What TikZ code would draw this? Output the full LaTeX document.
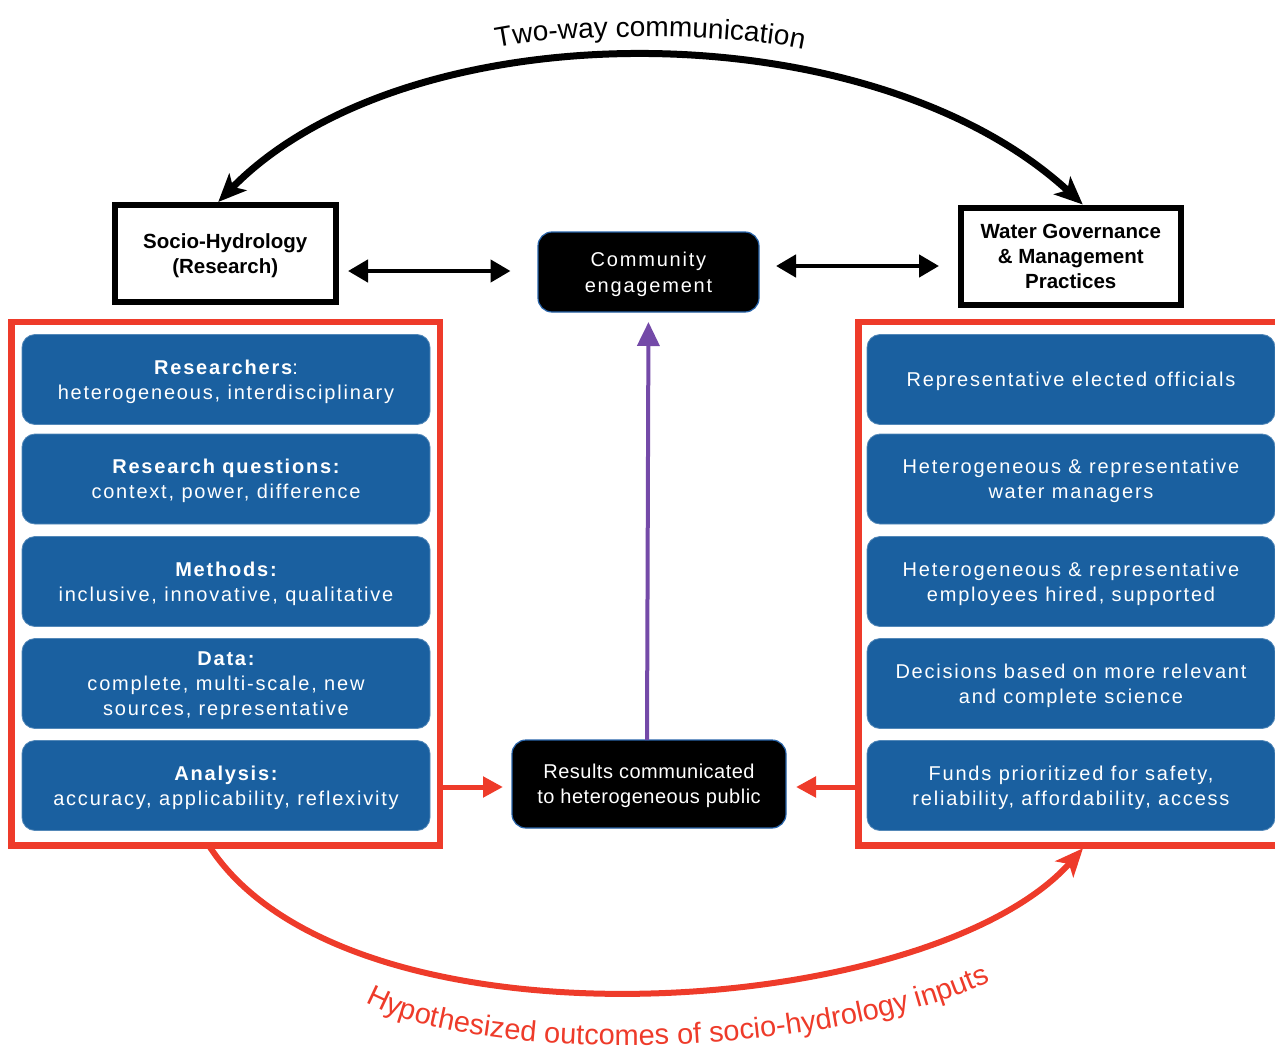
\documentclass[tikz,border=0pt]{standalone}
\usepackage{fontspec}
\setmainfont{Liberation Sans}
\newfontfamily\spacedfont[LetterSpace=9]{Liberation Sans}
\newfontfamily\midspfont[LetterSpace=2.5]{Liberation Sans}
\usetikzlibrary{arrows.meta,decorations.text,calc}
\definecolor{boxblue}{RGB}{26,96,160}
\definecolor{framered}{RGB}{238,59,42}
\definecolor{arrowpurple}{RGB}{116,74,168}
\definecolor{edgeblue}{RGB}{40,100,170}
\newcommand\myarcfont{\fontsize{28}{30}\selectfont}
\newcommand\mybotarcfont{\fontsize{29}{31}\selectfont}
\begin{document}
\begin{tikzpicture}[x=1pt,y=-1pt,
  bluebox/.style={fill=boxblue, draw=boxblue!75!white, line width=0.8pt, rounded corners=13pt,
    minimum width=408pt, minimum height=90pt, inner sep=0pt, outer sep=0pt, text=white,
    align=center, text depth=-1.8pt, font=\spacedfont\fontsize{20}{25}\selectfont},
  headbox/.style={draw=black, line width=6pt, fill=white, inner sep=0pt, outer sep=0pt,
    minimum width=220.5pt, minimum height=97pt, align=center,
    font=\bfseries\fontsize{20.5}{25}\selectfont},
  blackbox/.style={fill=black, draw=edgeblue, line width=1.2pt, rounded corners=14pt,
    inner sep=0pt, outer sep=0pt, text=white, align=center},
  redframe/.style={draw=framered, line width=6.5pt, inner sep=0pt, outer sep=0pt},
  dblarrow/.style={line width=4.5pt, {Triangle[length=20pt,width=22pt]}-{Triangle[length=20pt,width=22pt]}},
  redarrow/.style={draw=framered, line width=5pt, -{Triangle[length=20pt,width=20pt]}},
  purplearrow/.style={draw=arrowpurple, line width=4pt, -{Triangle[length=24pt,width=22pt]}},
  toparc/.style={line width=7pt, {Stealth[length=28pt,width=24pt,inset=7pt]}-{Stealth[length=28pt,width=24pt,inset=7pt]}},
  botarc/.style={draw=framered, line width=6pt, -{Stealth[length=28pt,width=24pt,inset=7pt]}}
]
\useasboundingbox (0,0) rectangle (1275,1049);
\begin{scope}
\clip (0,0) rectangle (1275,1049);

% header boxes
\node[headbox, text depth=-1.8pt] (socio) at (225.25,253.5) {Socio-Hydrology\\(Research)};
\node[headbox, text depth=-2pt] (water) at (1070.75,256) {Water Governance\\\& Management\\Practices};

% black boxes
\node[blackbox, minimum width=221pt, minimum height=80pt, text depth=0.2pt,
  font=\spacedfont\fontsize{20}{26}\selectfont] (community) at (648.5,272) {Community\\engagement};
\node[blackbox, minimum width=274pt, minimum height=88pt, text depth=-1.8pt,
  font=\midspfont\fontsize{20}{25}\selectfont] (results) at (649,784) {Results communicated\\to heterogeneous public};

% red frames
\node[redframe, minimum width=428.5pt, minimum height=523.5pt] (L) at (225.75,583.5) {};
\node[redframe, minimum width=430pt, minimum height=523.5pt] (R) at (1073.5,583.5) {};

% left blue boxes
\node[bluebox] (l1) at (226,379.5) {{\bfseries Researchers}:\\heterogeneous, interdisciplinary};
\node[bluebox] (l2) at (226,479) {{\bfseries Research questions:}\\context, power, difference};
\node[bluebox] (l3) at (226,581.5) {{\bfseries Methods:}\\inclusive, innovative, qualitative};
\node[bluebox] (l4) at (226,683.5) {{\bfseries Data:}\\complete, multi-scale, new\\sources, representative};
\node[bluebox] (l5) at (226,785.5) {{\bfseries Analysis:}\\accuracy, applicability, reflexivity};

% right blue boxes
\node[bluebox] (r1) at (1071,379.5) {Representative elected officials};
\node[bluebox] (r2) at (1071,479) {Heterogeneous \& representative\\water managers};
\node[bluebox] (r3) at (1071,581.5) {Heterogeneous \& representative\\employees hired, supported};
\node[bluebox] (r4) at (1071,683.5) {Decisions based on more relevant\\and complete science};
\node[bluebox] (r5) at (1071,785.5) {Funds prioritized for safety,\\reliability, affordability, access};

% double arrows
\draw[dblarrow, shorten <=12.5pt, shorten >=27.5pt] ([yshift=1pt]socio.east |- community.west) -- ([yshift=1pt]community.west);
\draw[dblarrow, shorten <=17pt, shorten >=21.5pt] ([yshift=6pt]community.east) -- ([yshift=6pt]community.east -| water.west);

% purple arrow
\draw[purplearrow, shorten >=10pt] ([xshift=-2pt]results.north) -- (community.south);

% red arrows into results
\coordinate (rin) at ([yshift=-3pt]results.west);
\coordinate (rout) at ([yshift=-3pt]results.east);
\draw[redarrow, shorten >=9pt] (L.east |- rin) -- (rin);
\draw[redarrow, shorten >=10pt] (R.west |- rout) -- (rout);

% top two-way arc
\draw[toparc] ($(socio.north)+(-7,-3)$) .. controls (408,8) and (870,8) .. ($(water.north)+(12,-3)$);
\path[decorate, decoration={text along path, text align=center,
  text={|\myarcfont|Two-way communication}}]
  (486,50) .. controls (555,32) and (745,32) .. (814,52);

% bottom red arc
\draw[botarc] ($(L.south)+(-15.75,2)$) .. controls (350,1060) and (930,1020) .. ($(R.south)+(9.5,3)$);
\path[decorate, decoration={text along path, text align=center, text color=framered,
  text={|\mybotarcfont|Hypothesized outcomes of socio-hydrology inputs}}]
  (358,998) .. controls (460,1064) and (820,1064) .. (998,978);
\end{scope}
\end{tikzpicture}
\end{document}
